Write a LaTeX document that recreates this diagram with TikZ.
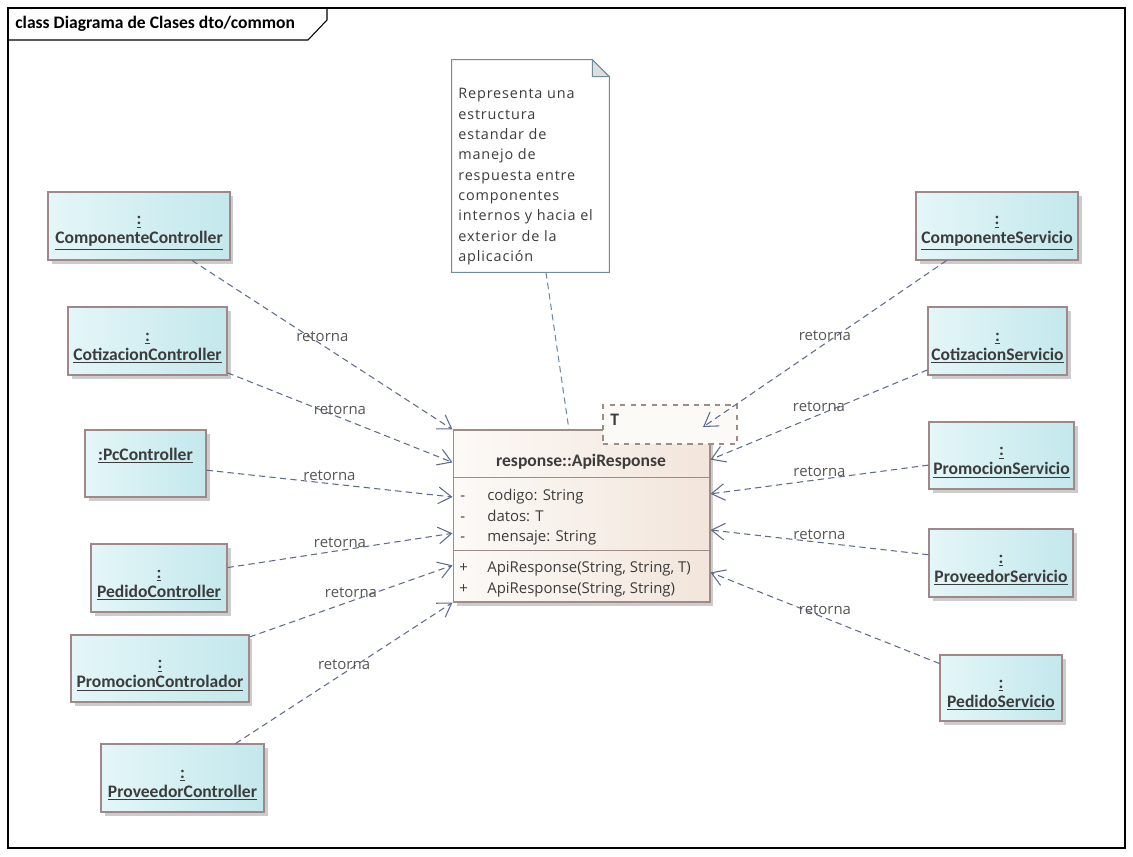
\documentclass[tikz,border=0pt]{standalone}
\usepackage{fontspec}
\setmainfont{Open Sans}
\newfontfamily\headfont{Carlito}
\usetikzlibrary{arrows.meta,calc,shadows}

\definecolor{objleft}{HTML}{E4F6F8}
\definecolor{objright}{HTML}{C3E8EC}
\definecolor{objborder}{HTML}{A08888}
\definecolor{clsleft}{HTML}{FCFAF7}
\definecolor{clsright}{HTML}{F2E5DB}
\definecolor{clsborder}{HTML}{9E8C88}
\definecolor{linecol}{HTML}{5F6B8A}
\definecolor{notecol}{HTML}{6E8C9C}
\definecolor{txtgray}{HTML}{3C3C3C}
\definecolor{lblgray}{HTML}{555555}

\newcommand{\objlbl}[1]{\rule{0pt}{13pt}\underline{:}\\\underline{#1}}

\begin{document}
\begin{tikzpicture}[
            x=0.02cm, y=-0.02cm,
            objbox/.style={rectangle, draw=objborder, line width=0.6pt, left color=objleft, right color=objright,
                drop shadow={shadow xshift=2pt, shadow yshift=-2pt, fill=black!20, opacity=1},
                align=center, inner sep=0pt, minimum height=1.36cm, text=txtgray,
                font=\headfont\bfseries\fontsize{10}{10.8}\selectfont},
            classbox/.style={rectangle, draw=clsborder, line width=0.6pt, left color=clsleft, right color=clsright,
                drop shadow={shadow xshift=2pt, shadow yshift=-2pt, fill=black!20, opacity=1},
                minimum width=5.14cm, minimum height=3.44cm, inner sep=0pt},
            tplbox/.style={rectangle, draw=clsborder, dashed, line width=0.6pt, fill=clsleft,
                minimum width=2.68cm, minimum height=0.78cm, inner sep=0pt},
            member/.style={anchor=base west, inner sep=0pt, text=txtgray, font=\fontsize{8.5}{10}\selectfont},
            ret/.style={draw=linecol, line width=0.6pt, dash pattern=on 3.6pt off 2.4pt,
                -{Straight Barb[length=7.5pt,width=9.5pt]}},
            lbl/.style={inner sep=1.5pt, text=lblgray, font=\fontsize{8.5}{10}\selectfont}
        ]
        \useasboundingbox (0,0) rectangle (1133,856);

        % --- Frame ---
        \draw[line width=0.6pt] (8,8) rectangle (1125,848);
        \draw[line width=0.6pt] (8,40) -- (308,40) -- (327,20) -- (327,8);
        \node[anchor=west, inner sep=0pt, font=\headfont\bfseries\fontsize{10}{12}\selectfont] (title) at (15,24)
            {class Diagrama de Clases dto/common};

        % --- Objects ---
        \node[objbox, minimum width=3.64cm] (cc) at (139,226) {\objlbl{ComponenteController}};
        \node[objbox, minimum width=3.18cm] (cotc) at (147.5,341) {\objlbl{CotizacionController}};
        \node[objbox, minimum width=2.42cm, minimum height=1.34cm] (pcc) at (145.5,463.5) {\underline{:PcController}\\~};
        \node[objbox, minimum width=2.72cm] (pedc) at (159,578) {\objlbl{PedidoController}};
        \node[objbox, minimum width=3.56cm, minimum height=1.34cm] (promc) at (160,668.5) {\objlbl{PromocionControlador}};
        \node[objbox, minimum width=3.26cm] (provc) at (182.5,778) {\objlbl{ProveedorController}};

        \node[objbox, minimum width=3.24cm] (cs) at (997,226) {\objlbl{ComponenteServicio}};
        \node[objbox, minimum width=2.78cm] (cots) at (997.5,341) {\objlbl{CotizacionServicio}};
        \node[objbox, minimum width=2.90cm, minimum height=1.34cm] (proms) at (1001.5,455.5) {\objlbl{PromocionServicio}};
        \node[objbox, minimum width=2.88cm] (provs) at (1001,563) {\objlbl{ProveedorServicio}};
        \node[objbox, minimum width=2.44cm, minimum height=1.32cm] (peds) at (1001,688) {\objlbl{PedidoServicio}};

        % --- Class ---
        \node[classbox] (api) at (581.5,516) {};
        \draw[draw=clsborder, line width=0.6pt] ($(api.north west)!0.279!(api.south west)$) -- ($(api.north east)!0.279!(api.south east)$);
        \draw[draw=clsborder, line width=0.6pt] ($(api.north west)!0.698!(api.south west)$) -- ($(api.north east)!0.698!(api.south east)$);
        \node[inner sep=0pt, text=txtgray, font=\headfont\bfseries\fontsize{10}{12}\selectfont] (apiname) at (581,462) {response::ApiResponse};
        \node[member] (vis1) at (460,500) {-};
        \node[member] (attr1) at (487,500) {codigo: String};
        \node[member] (vis2) at (460,521) {-};
        \node[member] (attr2) at (487,521) {datos: T};
        \node[member] (vis3) at (460,541) {-};
        \node[member] (attr3) at (487,541) {mensaje: String};
        \node[member] (vis4) at (459,572) {+};
        \node[member] (op1) at (487,572) {ApiResponse(String, String, T)};
        \node[member] (vis5) at (459,593) {+};
        \node[member] (op2) at (487,593) {ApiResponse(String, String)};

        \node[tplbox] (tpl) at (670,424.5) {};
        \node[anchor=west, inner sep=0pt, text=txtgray, font=\headfont\bfseries\fontsize{10}{12}\selectfont] (tplT) at (610,420) {T};

        % --- Note ---
        \node[minimum width=3.14cm, minimum height=4.24cm, inner sep=0pt] (note) at (530.5,166) {};
        \draw[draw=notecol, fill=white, line width=0.6pt] (note.south west) -- (note.north west) -- ([xshift=-0.34cm]note.north east)
            -- ([yshift=-0.34cm]note.north east) -- (note.south east) -- cycle;
        \draw[draw=notecol, fill=black!13, line width=0.6pt] ([xshift=-0.34cm]note.north east) -- ([xshift=-0.34cm,yshift=-0.34cm]note.north east)
            -- ([yshift=-0.34cm]note.north east) -- cycle;
        \node[anchor=north west, inner sep=0pt, align=left, text=txtgray,
            font=\addfontfeature{LetterSpace=6}\fontsize{8.2}{11.6}\selectfont] (notetxt) at (458,88)
            {Representa una\\estructura\\estandar de\\manejo de\\respuesta entre\\componentes\\internos y hacia el\\exterior de la\\aplicación};
        \draw[draw=notecol, line width=0.6pt, dash pattern=on 3.6pt off 2.4pt] (note) -- (api);

        % --- Connectors ---
        \draw[ret] (cc) -- node[lbl, midway, above] {retorna} (api.north west);
        \draw[ret] (cotc) -- node[lbl, midway, above] {retorna} ($(api.north west)!0.19!(api.south west)$);
        \draw[ret] (pcc) -- node[lbl, midway, above] {retorna} ($(api.north west)!0.39!(api.south west)$);
        \draw[ret] (pedc) -- node[lbl, midway, above] {retorna} ($(api.north west)!0.60!(api.south west)$);
        \draw[ret] (promc) -- node[lbl, midway, above] {retorna} ($(api.north west)!0.785!(api.south west)$);
        \draw[ret] (provc) -- node[lbl, midway, above] {retorna} (api.south west);

        \draw[ret] (cs) -- node[lbl, midway, above] {retorna} ($(tpl.center)+(33,2.5)$);
        \draw[ret] (cots) -- node[lbl, midway, above] {retorna} ($(api.north east)!0.174!(api.south east)$);
        \draw[ret] (proms) -- node[lbl, midway, above] {retorna} ($(api.north east)!0.372!(api.south east)$);
        \draw[ret] (provs) -- node[lbl, midway, above] {retorna} ($(api.north east)!0.581!(api.south east)$);
        \draw[ret] (peds) -- node[lbl, midway, above] {retorna} ($(api.north east)!0.826!(api.south east)$);
\end{tikzpicture}
\end{document}
